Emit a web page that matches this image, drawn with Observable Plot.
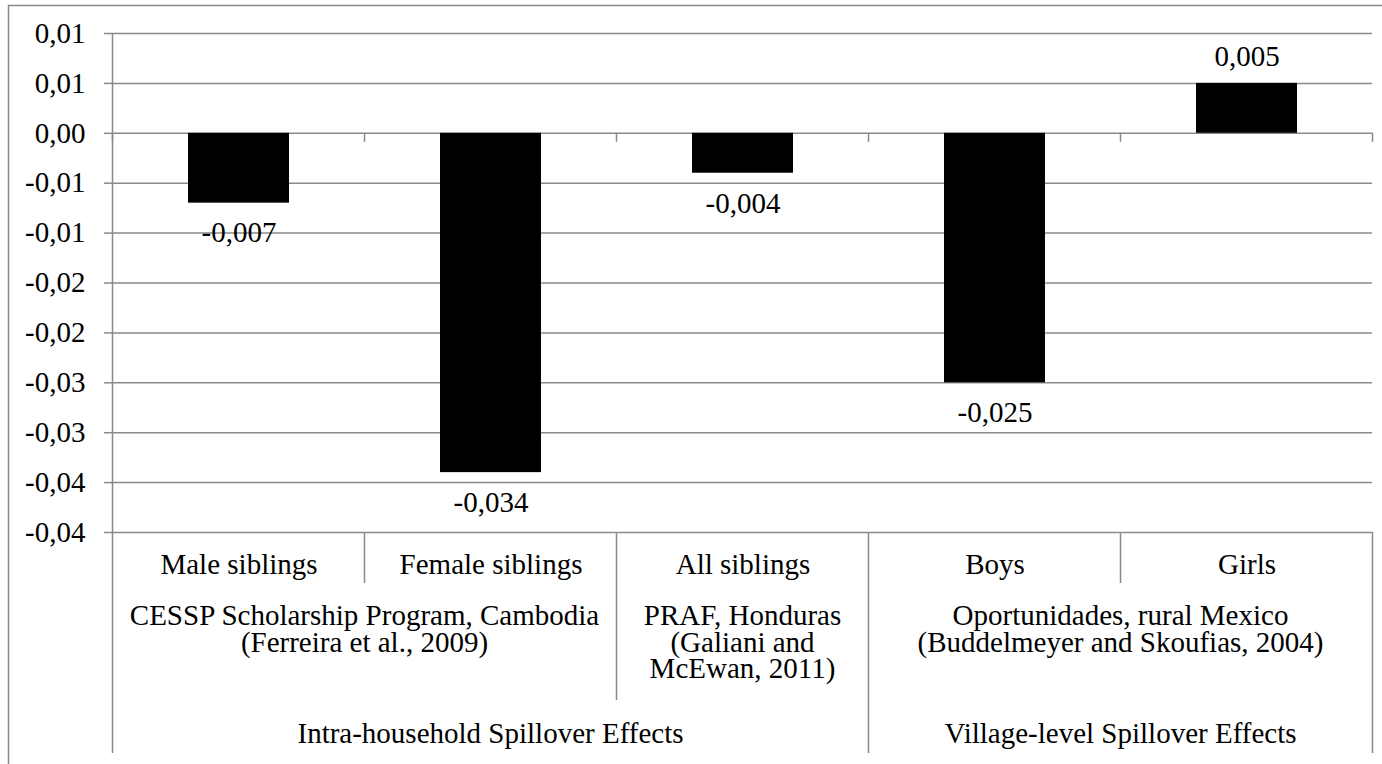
<!DOCTYPE html>
<html><head><meta charset="utf-8">
<script src="https://cdn.jsdelivr.net/npm/d3@7"></script>
<script src="https://cdn.jsdelivr.net/npm/@observablehq/plot@0.6"></script>
<style>
html,body{margin:0;padding:0;background:#fff;}
#chart{width:1382px;height:764px;overflow:hidden;}
</style></head><body><div id="chart"></div>
<script>
// ---- data ----
const categories = ["Male siblings", "Female siblings", "All siblings", "Boys", "Girls"];
const values = [-0.007, -0.034, -0.004, -0.025, 0.005];

const programLabels = [
  ["CESSP Scholarship Program, Cambodia", "(Ferreira et al., 2009)"],
  ["PRAF, Honduras", "(Galiani and", "McEwan, 2011)"],
  ["Oportunidades, rural Mexico", "(Buddelmeyer and Skoufias, 2004)"]
];
const programSpans = [[0, 1], [2, 2], [3, 4]];

const effectLabels = ["Intra-household Spillover Effects", "Village-level Spillover Effects"];
const effectSpans = [[0, 2], [3, 4]];

const yTickValues = [0.01, 0.005, 0, -0.005, -0.01, -0.015, -0.02, -0.025, -0.03, -0.035, -0.04];
const yTickLabels = ["0,01", "0,01", "0,00", "-0,01", "-0,01", "-0,02", "-0,02", "-0,03", "-0,03", "-0,04", "-0,04"];

// ---- style ----
const GRAY = "#8a8a8a";
const FONT = "'Liberation Serif', 'Times New Roman', serif";
const FS = 29;
const fmt = v => v.toFixed(3).replace(".", ",");
const tickLabel = new Map(yTickValues.map((v, i) => [v, yTickLabels[i]]));

const data = categories.map((c, i) => ({category: c, value: values[i]}));

const plot = Plot.plot({
  width: 1382, height: 764,
  marginLeft: 112, marginRight: 10, marginTop: 33, marginBottom: 232,
  style: {fontFamily: FONT, fontSize: FS + "px", color: "#000", background: "#fff"},
  x: {domain: categories, paddingInner: 0.6, paddingOuter: 0.3, axis: null},
  y: {domain: [-0.04, 0.01], axis: null},
  marks: [
    Plot.gridY(yTickValues, {stroke: GRAY, strokeOpacity: 1, strokeWidth: 1.5}),
    Plot.axisY(yTickValues, {anchor: "left", label: null, tickSize: 8, tickPadding: 19, tickFormat: d => tickLabel.get(d),
      stroke: GRAY, strokeWidth: 1.5, fill: "#000", fontSize: FS}),
    Plot.barY(data, {x: "category", y: "value", fill: "#000"}),
    Plot.text(data.filter(d => d.value < 0), {x: "category", y: "value", text: d => fmt(d.value),
      dy: 30, fontSize: FS, lineAnchor: "middle", fill: "#000"}),
    Plot.text(data.filter(d => d.value >= 0), {x: "category", y: "value", text: d => fmt(d.value),
      dy: -27, fontSize: FS, lineAnchor: "middle", fill: "#000"}),
    Plot.text(categories, {x: d => d, text: d => d, frameAnchor: "bottom", dy: 32, fontSize: FS,
      lineAnchor: "middle", fill: "#000"})
  ]
});

document.getElementById("chart").appendChild(plot);

// ---- multi-level category axis, drawn with the plot's own scales ----
const xs = plot.scale("x"), ys = plot.scale("y");
const step = xs.apply(categories[1]) - xs.apply(categories[0]);
const gap = (step - xs.bandwidth) / 2;
const boundary = i => i < categories.length
  ? xs.apply(categories[i]) - gap
  : xs.apply(categories[categories.length - 1]) + xs.bandwidth + gap;

const yTop = ys.apply(0.01), yZero = ys.apply(0), yBottom = ys.apply(-0.04);
const L1 = yBottom + 51, L2 = yBottom + 168, L3 = yBottom + 221;

const svg = d3.select(plot);
const g = svg.append("g").attr("stroke", GRAY).attr("stroke-width", 1.5).attr("fill", "none");

// outer border (left & top only visible)
g.append("path").attr("d", "M8.5,764V5.5H1382");

// value axis line, extended down through the category area
g.append("line").attr("x1", boundary(0)).attr("x2", boundary(0)).attr("y1", yTop).attr("y2", L3);

// ticks along the zero line at category boundaries
for (let i = 0; i <= categories.length; i++) {
  g.append("line").attr("x1", boundary(i)).attr("x2", boundary(i)).attr("y1", yZero).attr("y2", yZero + 9);
}

// separator depth for each boundary
const depth = new Array(categories.length + 1).fill(L1);
programSpans.forEach(([a, b]) => { depth[a] = Math.max(depth[a], L2); depth[b + 1] = Math.max(depth[b + 1], L2); });
effectSpans.forEach(([a, b]) => { depth[a] = L3; depth[b + 1] = L3; });
for (let i = 1; i <= categories.length; i++) {
  g.append("line").attr("x1", boundary(i)).attr("x2", boundary(i)).attr("y1", yBottom).attr("y2", depth[i]);
}

const tg = svg.append("g").attr("fill", "#000").attr("font-size", FS).attr("font-family", FONT)
  .attr("text-anchor", "middle");

programLabels.forEach((lines, k) => {
  const [a, b] = programSpans[k];
  const cx = (boundary(a) + boundary(b + 1)) / 2;
  lines.forEach((t, j) => {
    tg.append("text").attr("x", cx).attr("y", yBottom + 93 + j * 26.5).text(t);
  });
});

effectLabels.forEach((t, k) => {
  const [a, b] = effectSpans[k];
  const cx = (boundary(a) + boundary(b + 1)) / 2;
  tg.append("text").attr("x", cx).attr("y", yBottom + 211).text(t);
});
</script>
</body></html>
